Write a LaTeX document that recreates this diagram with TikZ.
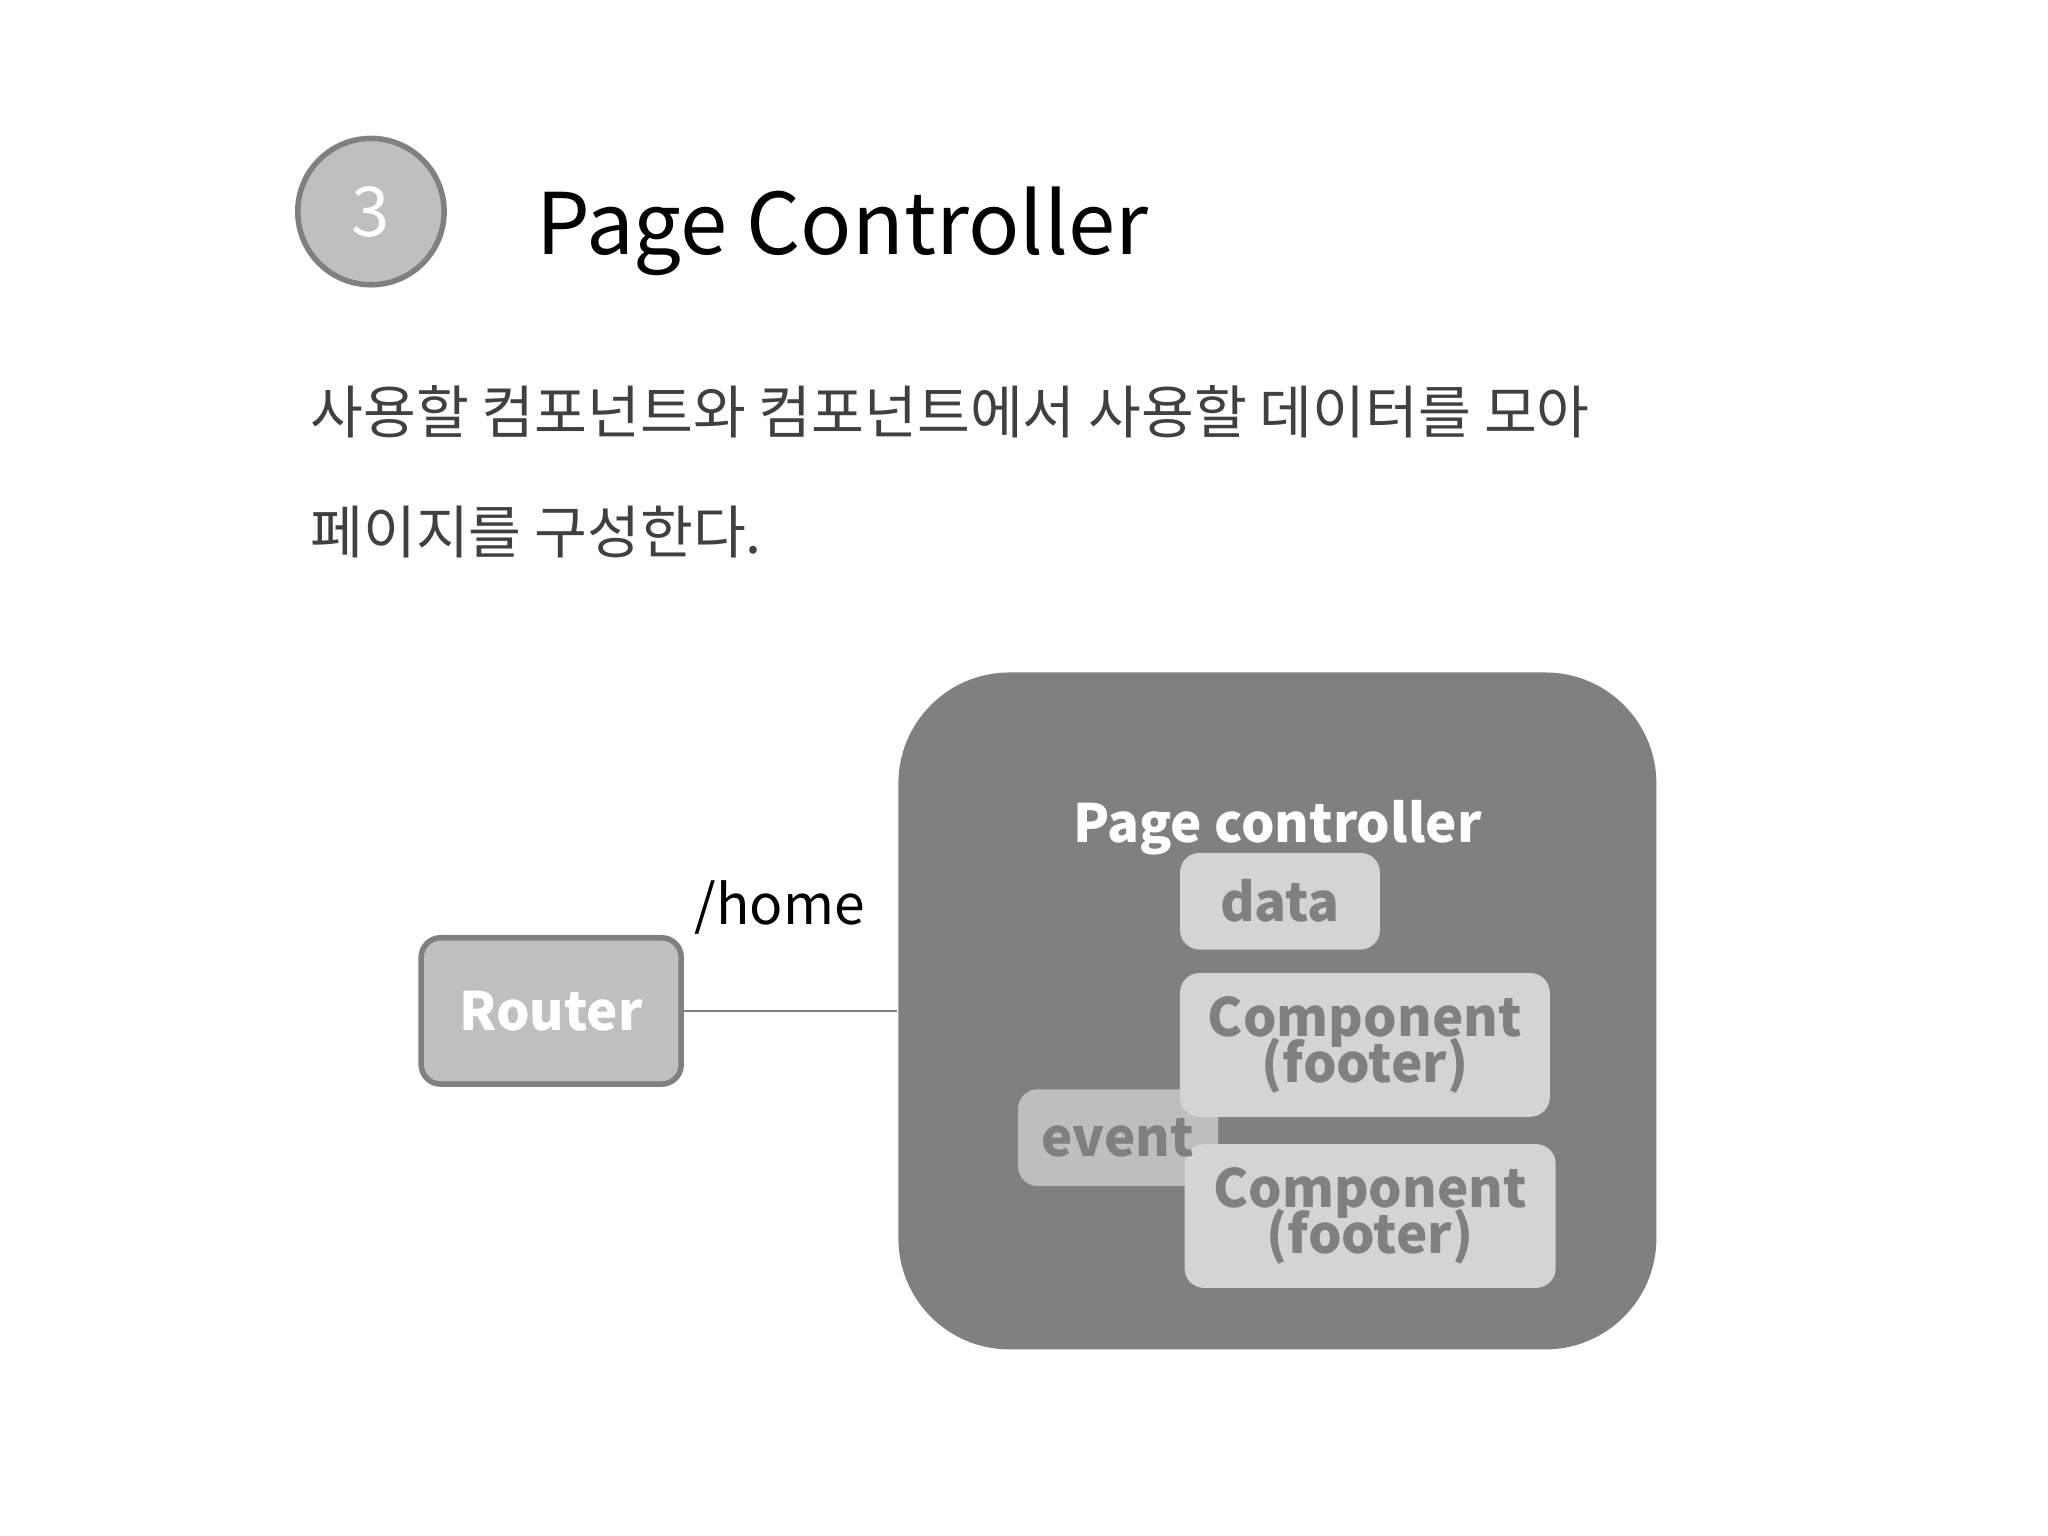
\documentclass[tikz,border=0pt]{standalone}
\usepackage{fontspec}
\setmainfont{Noto Sans CJK KR}
\begin{document}
\begin{tikzpicture}[x=0.01cm,y=-0.01cm,
  inner/.style={fill=innergray,rounded corners=0.15cm,text=midgray,font=\fontsize{11.5}{13}\selectfont\bfseries,align=center},
  lbl/.style={inner sep=0,anchor=base west}]
\definecolor{midgray}{HTML}{808080}
\definecolor{innergray}{HTML}{D4D4D4}
\definecolor{lightgray2}{HTML}{BFBFBF}
\definecolor{textgray}{HTML}{404040}
\useasboundingbox (0,0) rectangle (1568,1176);
\node[circle,draw=midgray,line width=1.2pt,fill=lightgray2,minimum size=1.12cm,text=white,font=\fontsize{15}{17}\selectfont] (num) at (284,162) {3};
\node[lbl,font=\fontsize{18.5}{20}\selectfont] (title) at (410,195) {Page Controller};
\node[lbl,text=textgray,font=\fontsize{12.5}{14}\selectfont] (l1) at (237,332) {사용할 컴포넌트와 컴포넌트에서 사용할 데이터를 모아};
\node[lbl,text=textgray,font=\fontsize{12.5}{14}\selectfont] (l2) at (237,424) {페이지를 구성한다.};
\node[fill=midgray,rounded corners=0.85cm,minimum width=5.8cm,minimum height=5.18cm] (pc) at (978,774) {};
\node[text=white,font=\fontsize{11.5}{13}\selectfont\bfseries] (pct) at (978,634) {Page controller};
\node[inner,minimum width=1.53cm,minimum height=0.74cm] (data) at (980,690) {data};
\node[inner,minimum width=2.83cm,minimum height=1.1cm] (c1) at (1045,800) {Component\\[-3pt](footer)};
\node[inner,minimum width=2.84cm,minimum height=1.1cm] (c2) at (1049,931) {Component\\[-3pt](footer)};
\node[inner,fill opacity=0.75,text opacity=1,minimum width=1.53cm,minimum height=0.74cm] (ev) at (856,871) {event};
\node[draw=midgray,line width=1.2pt,fill=lightgray2,rounded corners=0.15cm,minimum width=1.99cm,minimum height=1.12cm,text=white,font=\fontsize{11.5}{13}\selectfont\bfseries] (router) at (422,774) {Router};
\draw[midgray,line width=0.5pt] (router.east) -- (pc.west);
\node[font=\fontsize{12}{14}\selectfont] (home) at (597,695) {/home};
\end{tikzpicture}
\end{document}
